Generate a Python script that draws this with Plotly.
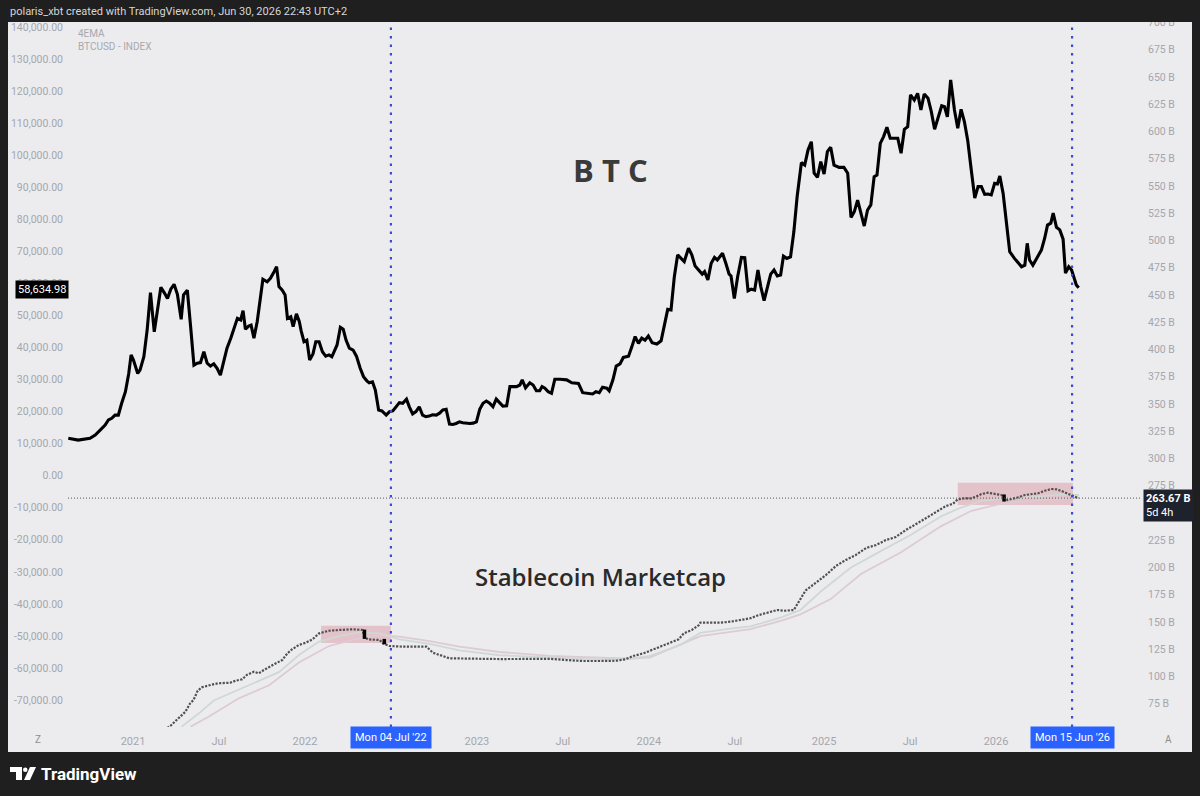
import plotly.graph_objects as go

# ---------------- DATA ----------------
btc_dates = [
    "2020-08-20", "2020-09-10", "2020-10-05", "2020-10-16", "2020-10-27", "2020-11-06", "2020-11-13",
    "2020-11-20", "2020-11-27", "2020-12-04", "2020-12-11", "2020-12-19", "2020-12-26", "2020-12-31",
    "2021-01-05", "2021-01-14", "2021-01-19", "2021-01-27", "2021-02-03", "2021-02-10", "2021-02-18",
    "2021-02-25", "2021-03-04", "2021-03-12", "2021-03-18", "2021-03-25", "2021-04-01", "2021-04-08",
    "2021-04-16", "2021-04-21", "2021-04-29", "2021-05-06", "2021-05-13", "2021-05-20", "2021-05-27",
    "2021-06-03", "2021-06-10", "2021-06-17", "2021-06-24", "2021-07-01", "2021-07-08", "2021-07-15",
    "2021-07-22", "2021-07-30", "2021-08-06", "2021-08-13", "2021-08-20", "2021-08-25", "2021-08-30",
    "2021-09-06", "2021-09-11", "2021-09-17", "2021-09-24", "2021-10-01", "2021-10-06", "2021-10-15",
    "2021-10-22", "2021-10-30", "2021-11-04", "2021-11-09", "2021-11-16", "2021-11-22", "2021-11-27",
    "2021-12-04", "2021-12-09", "2021-12-16", "2021-12-22", "2021-12-26", "2022-01-01", "2022-01-07",
    "2022-01-13", "2022-01-20", "2022-01-26", "2022-02-02", "2022-02-09", "2022-02-16", "2022-02-23",
    "2022-03-01", "2022-03-06", "2022-03-12", "2022-03-19", "2022-03-25", "2022-03-31", "2022-04-07",
    "2022-04-15", "2022-04-22", "2022-04-30", "2022-05-07", "2022-05-14", "2022-05-19", "2022-05-26",
    "2022-06-01", "2022-06-08", "2022-06-15", "2022-06-24", "2022-07-01", "2022-07-08", "2022-07-15",
    "2022-07-22", "2022-07-29", "2022-08-06", "2022-08-12", "2022-08-19", "2022-08-26", "2022-09-02",
    "2022-09-09", "2022-09-16", "2022-09-23", "2022-09-30", "2022-10-08", "2022-10-15", "2022-10-22",
    "2022-10-29", "2022-11-05", "2022-11-12", "2022-11-19", "2022-11-26", "2022-12-03", "2022-12-11",
    "2022-12-18", "2022-12-25", "2023-01-01", "2023-01-08", "2023-01-15", "2023-01-22", "2023-01-29",
    "2023-02-05", "2023-02-12", "2023-02-19", "2023-02-26", "2023-03-06", "2023-03-13", "2023-03-20",
    "2023-03-27", "2023-04-03", "2023-04-08", "2023-04-15", "2023-04-24", "2023-05-01", "2023-05-08",
    "2023-05-15", "2023-05-20", "2023-05-26", "2023-06-02", "2023-06-09", "2023-06-16", "2023-06-27",
    "2023-07-11", "2023-07-22", "2023-08-05", "2023-08-14", "2023-08-26", "2023-09-04", "2023-09-11",
    "2023-09-18", "2023-09-25", "2023-10-04", "2023-10-09", "2023-10-17", "2023-10-24", "2023-11-01",
    "2023-11-08", "2023-11-19", "2023-11-26", "2023-12-03", "2023-12-10", "2023-12-17", "2023-12-24",
    "2023-12-31", "2024-01-08", "2024-01-18", "2024-01-27", "2024-02-03", "2024-02-10", "2024-02-17",
    "2024-02-24", "2024-03-02", "2024-03-09", "2024-03-16", "2024-03-25", "2024-04-01", "2024-04-08",
    "2024-04-15", "2024-04-23", "2024-04-28", "2024-05-05", "2024-05-12", "2024-05-19", "2024-05-25",
    "2024-05-30", "2024-06-05", "2024-06-12", "2024-06-19", "2024-06-23", "2024-06-30", "2024-07-07",
    "2024-07-15", "2024-07-22", "2024-07-29", "2024-08-05", "2024-08-12", "2024-08-19", "2024-08-25",
    "2024-09-01", "2024-09-08", "2024-09-15", "2024-09-22", "2024-09-29", "2024-10-06", "2024-10-12",
    "2024-10-19", "2024-10-27", "2024-11-03", "2024-11-10", "2024-11-19", "2024-11-26", "2024-12-03",
    "2024-12-10", "2024-12-16", "2024-12-23", "2024-12-30", "2025-01-06", "2025-01-13", "2025-01-20",
    "2025-01-27", "2025-02-07", "2025-02-17", "2025-02-25", "2025-03-04", "2025-03-11", "2025-03-18",
    "2025-03-25", "2025-04-01", "2025-04-08", "2025-04-15", "2025-04-22", "2025-04-28", "2025-05-05",
    "2025-05-12", "2025-05-19", "2025-05-26", "2025-06-02", "2025-06-11", "2025-06-18", "2025-06-25",
    "2025-07-02", "2025-07-08", "2025-07-16", "2025-07-23", "2025-07-30", "2025-08-06", "2025-08-14",
    "2025-08-21", "2025-08-28", "2025-09-04", "2025-09-12", "2025-09-18", "2025-09-24", "2025-10-01",
    "2025-10-09", "2025-10-16", "2025-10-23", "2025-10-30", "2025-11-06", "2025-11-14", "2025-11-21",
    "2025-11-28", "2025-12-05", "2025-12-12", "2025-12-19", "2025-12-26", "2026-01-02", "2026-01-08",
    "2026-01-13", "2026-01-20", "2026-01-27", "2026-02-03", "2026-02-13", "2026-02-28", "2026-03-07",
    "2026-03-12", "2026-03-17", "2026-03-24", "2026-04-01", "2026-04-11", "2026-04-18", "2026-04-24",
    "2026-05-01", "2026-05-06", "2026-05-13", "2026-05-20", "2026-05-27", "2026-06-01", "2026-06-08",
    "2026-06-14", "2026-06-24", "2026-06-29",
]
# BTC 4EMA, thousands of USD
btc_k = [
    11.7, 11.1, 11.7, 12.7, 14.3, 15.8, 17.4,
    17.9, 18.9, 18.9, 22.6, 26.2, 31.9, 37.7,
    36.1, 31.9, 33.0, 37.1, 45.5, 57.1, 44.9,
    52.7, 58.8, 56.9, 55.3, 58.2, 59.7, 56.6,
    48.8, 56.4, 57.9, 46.5, 34.5, 35.1, 35.3,
    38.7, 35.1, 34.2, 34.9, 33.5, 31.4, 35.6,
    39.8, 42.9, 46.0, 49.1, 48.6, 51.5, 45.7,
    46.7, 47.0, 42.9, 48.1, 55.9, 61.3, 60.5,
    61.6, 63.7, 65.2, 59.0, 57.9, 56.4, 49.1,
    49.6, 46.5, 50.5, 48.1, 45.2, 41.8, 42.3,
    36.1, 38.0, 41.8, 41.8, 38.7, 37.3, 37.7,
    37.1, 38.7, 40.8, 46.3, 45.7, 42.3, 39.8,
    39.2, 37.3, 33.5, 30.9, 29.6, 29.0, 29.3,
    26.7, 20.5, 20.2, 18.9, 20.0, 20.2, 21.7,
    22.8, 22.6, 23.9, 21.5, 19.3, 20.0, 21.5,
    18.9, 18.4, 18.6, 19.0, 18.9, 19.5, 20.5,
    20.7, 16.1, 16.0, 16.3, 16.8, 16.5, 16.3,
    16.3, 16.4, 16.8, 20.7, 22.6, 23.3, 22.6,
    21.5, 23.9, 22.8, 21.7, 21.8, 27.8, 27.8,
    27.8, 28.3, 29.9, 27.4, 29.0, 28.3, 26.5,
    26.5, 27.8, 27.3, 26.2, 25.7, 30.1, 30.1,
    29.9, 29.0, 28.8, 25.9, 25.7, 25.5, 26.2,
    25.9, 27.6, 27.3, 26.5, 29.9, 34.2, 34.9,
    36.9, 37.3, 40.2, 43.4, 41.3, 42.9, 42.3,
    43.6, 41.5, 41.1, 42.1, 47.6, 51.9, 51.7,
    62.1, 68.9, 67.8, 66.8, 71.0, 68.9, 65.4,
    64.2, 62.9, 63.7, 61.1, 66.3, 68.1, 67.3,
    68.3, 69.4, 66.3, 62.9, 62.3, 55.3, 62.1,
    68.1, 68.0, 57.7, 58.2, 57.9, 64.2, 59.0,
    54.6, 59.0, 62.9, 64.2, 62.3, 62.6, 68.5,
    67.8, 68.3, 76.1, 87.1, 97.7, 96.9, 101.6,
    104.2, 94.4, 93.1, 98.0, 94.1, 101.1, 102.5,
    96.9, 96.2, 96.2, 94.4, 80.6, 82.4, 86.0,
    81.9, 77.9, 82.9, 84.5, 93.3, 93.8, 103.7,
    105.8, 108.7, 105.3, 105.3, 105.3, 100.6, 108.1,
    108.9, 118.8, 117.2, 119.3, 114.1, 119.1, 117.8,
    113.6, 108.1, 111.5, 115.4, 115.1, 112.0, 123.5,
    114.1, 108.4, 114.3, 110.5, 104.7, 94.9, 86.6,
    90.2, 90.2, 87.8, 87.9, 87.6, 91.2, 91.0,
    93.5, 88.1, 79.8, 69.9, 67.8, 65.2, 65.7,
    72.5, 67.3, 65.7, 67.8, 70.4, 74.1, 78.2,
    78.8, 81.9, 77.5, 76.7, 73.8, 63.2, 65.2,
    64.2, 59.5, 58.635,
]

stable_dates = [
    "2021-01-20", "2021-02-24", "2021-03-24", "2021-04-10", "2021-04-25", "2021-05-05", "2021-05-12",
    "2021-05-21", "2021-05-30", "2021-06-17", "2021-07-04", "2021-07-29", "2021-08-09", "2021-08-23",
    "2021-09-02", "2021-09-17", "2021-09-27", "2021-10-08", "2021-10-22", "2021-11-02", "2021-11-16",
    "2021-11-27", "2021-12-07", "2021-12-21", "2022-01-05", "2022-01-19", "2022-02-02", "2022-02-23",
    "2022-03-17", "2022-04-14", "2022-05-05", "2022-05-09", "2022-05-16", "2022-06-10", "2022-06-17",
    "2022-07-01", "2022-07-29", "2022-09-17", "2022-10-01", "2022-11-05", "2023-02-19", "2023-06-06",
    "2023-07-11", "2023-08-15", "2023-09-20", "2023-10-25", "2023-11-12", "2023-11-29", "2023-12-21",
    "2024-01-04", "2024-01-25", "2024-02-15", "2024-03-04", "2024-03-15", "2024-04-01", "2024-04-16",
    "2024-04-19", "2024-05-10", "2024-06-01", "2024-06-22", "2024-07-13", "2024-08-03", "2024-08-21",
    "2024-09-15", "2024-09-29", "2024-10-13", "2024-11-03", "2024-11-07", "2024-11-14", "2024-11-28",
    "2024-12-19", "2025-01-10", "2025-01-31", "2025-02-21", "2025-03-14", "2025-04-05", "2025-04-26",
    "2025-05-17", "2025-06-07", "2025-06-28", "2025-07-20", "2025-08-10", "2025-08-31", "2025-09-21",
    "2025-10-06", "2025-10-16", "2025-10-30", "2025-11-14", "2025-11-24", "2025-12-05", "2025-12-19",
    "2026-01-02", "2026-01-16", "2026-01-29", "2026-02-06", "2026-02-21", "2026-03-07", "2026-03-21",
    "2026-04-04", "2026-04-18", "2026-05-02", "2026-05-13", "2026-05-24", "2026-06-07", "2026-06-18",
    "2026-06-29",
]
# Stablecoin market cap, billions USD
stable_b = [
    36.0, 46.0, 54.6, 61.6, 67.7, 75.4, 78.4,
    87.0, 90.1, 92.2, 93.8, 94.3, 96.1, 97.4,
    101.4, 104.4, 102.9, 105.9, 108.9, 112.0, 115.1,
    121.3, 125.0, 128.9, 131.0, 134.1, 139.6, 142.0,
    142.7, 143.3, 142.7, 136.5, 134.1, 133.5, 130.5,
    128.0, 127.4, 127.4, 121.8, 116.7, 116.0, 116.2,
    115.1, 114.2, 114.2, 114.5, 115.8, 118.8, 121.3,
    123.7, 127.4, 130.5, 134.1, 139.6, 142.7, 147.2,
    149.4, 149.4, 149.4, 150.3, 151.8, 153.4, 156.4,
    159.4, 161.0, 160.3, 161.0, 164.0, 168.6, 179.0,
    185.8, 193.1, 201.4, 206.9, 211.5, 217.9, 220.6,
    225.2, 228.0, 234.4, 239.9, 245.4, 250.9, 256.4,
    258.5, 262.6, 263.5, 263.5, 265.0, 267.4, 268.6,
    267.4, 266.5, 261.9, 262.6, 264.4, 266.5, 267.4,
    268.1, 270.4, 272.0, 271.7, 270.2, 267.4, 265.6,
    263.67,
]

# weeks shown as black (down) candles
down_dates = ["2022-05-09", "2022-06-20", "2026-01-22"]
down_open = [143.0, 134.5, 267.0]
down_close = [134.5, 129.5, 260.5]

ema_fast_dates = [
    "2021-04-17", "2021-05-23", "2021-06-24", "2021-08-16", "2021-09-28", "2021-11-09", "2021-12-22",
    "2022-02-02", "2022-03-17", "2022-04-28", "2022-06-10", "2022-07-22", "2022-09-24", "2022-11-26",
    "2023-02-19", "2023-06-06", "2023-09-20", "2023-11-22", "2024-01-04", "2024-03-08", "2024-04-19",
    "2024-06-22", "2024-08-03", "2024-10-06", "2024-11-17", "2024-12-30", "2025-03-04", "2025-05-06",
    "2025-07-09", "2025-09-11", "2025-10-23", "2025-12-05", "2026-01-16", "2026-03-21", "2026-05-24",
    "2026-06-30",
]
ema_fast_b = [
    54, 66, 78, 88, 96, 104, 120,
    132, 137, 140.5, 139.5, 134, 130, 124,
    119.5, 117.5, 115.5, 116.5, 119, 129, 140,
    144, 146, 154, 161, 178, 200, 215,
    230, 247, 255, 261, 263.5, 264.5, 267,
    266.5,
]

ema_slow_dates = [
    "2021-05-06", "2021-06-13", "2021-08-16", "2021-10-19", "2021-12-22", "2022-02-23", "2022-04-28",
    "2022-06-10", "2022-07-22", "2022-09-24", "2022-11-26", "2023-02-19", "2023-06-06", "2023-09-20",
    "2023-11-22", "2024-01-04", "2024-04-19", "2024-08-03", "2024-10-06", "2024-11-17", "2025-01-20",
    "2025-03-25", "2025-06-18", "2025-09-11", "2025-11-14", "2026-01-16", "2026-04-11", "2026-06-30",
]
ema_slow_b = [
    54, 63, 80, 92, 113, 128, 135,
    138, 136.5, 132.5, 127.5, 122.5, 119, 117,
    116.3, 117.5, 137, 143.5, 151, 157, 171,
    194, 214, 238, 252, 258.5, 262, 264,
]

highlight_start = ["2022-02-06", "2025-10-16"]
highlight_end = ["2022-07-04", "2026-06-17"]
highlight_low = [130.8, 257.3]
highlight_high = [146.5, 277.8]

crosshair_dates = ["2022-07-04", "2026-06-15"]
crosshair_text = ["Mon 04 Jul '22", "Mon 15 Jun '26"]
last_btc_text = "58,634.98"
last_stable = 263.67

left_ticks = list(range(-70, 150, 10))
right_ticks = list(range(75, 725, 25))
x_tick_dates = ["2021-01-04", "2021-07-05", "2022-01-03", "2023-01-02", "2023-07-03",
                "2024-01-01", "2024-07-01", "2025-01-06", "2025-07-07", "2026-01-05"]
x_tick_text = ["2021", "Jul", "2022", "2023", "Jul", "2024", "Jul", "2025", "Jul", "2026"]

# ---------------- LAYOUT HELPERS ----------------
W, H = 1200, 796
L, R, T, B = 68, 60, 22, 69
PW, PH = W - L - R, H - T - B


def px(x):
    return (x - L) / PW


def py(y):
    return 1 - (y - T) / PH


PANEL = "#ececef"
DARK = "#1f1f1f"
AXIS_TXT = "#a4a6ac"
FONT = "Roboto"

fig = go.Figure()

fig.add_trace(go.Scatter(x=ema_slow_dates, y=ema_slow_b, yaxis="y2", mode="lines",
                         line=dict(color="#dccbd6", width=1.8), hoverinfo="skip"))
fig.add_trace(go.Scatter(x=ema_fast_dates, y=ema_fast_b, yaxis="y2", mode="lines",
                         line=dict(color="#cfd8d4", width=1.8), hoverinfo="skip"))
fig.add_trace(go.Scatter(x=stable_dates, y=stable_b, yaxis="y2", mode="lines",
                         line=dict(color="#505050", width=2.2, dash="2.2px,1.4px"),
                         hoverinfo="skip"))
dx, dy = [], []
for d, o, c in zip(down_dates, down_open, down_close):
    dx += [d, d, None]
    dy += [o, c, None]
fig.add_trace(go.Scatter(x=dx, y=dy, yaxis="y2", mode="lines",
                         line=dict(color="#000000", width=3.5), hoverinfo="skip"))
fig.add_trace(go.Scatter(x=btc_dates, y=btc_k, mode="lines",
                         line=dict(color="#000000", width=3.1), hoverinfo="skip"))

shapes = []
# light chart panel
shapes.append(dict(type="rect", xref="paper", yref="paper", x0=px(8), x1=px(1192), y0=py(752), y1=py(22),
                   fillcolor=PANEL, line=dict(width=0), layer="below"))
# highlight boxes
for s, e, lo, hi in zip(highlight_start, highlight_end, highlight_low, highlight_high):
    shapes.append(dict(type="rect", xref="x", yref="y2", x0=s, x1=e, y0=lo, y1=hi,
                       fillcolor="rgba(214,110,124,0.33)", line=dict(width=0), layer="below"))
# crosshair verticals
for d in crosshair_dates:
    shapes.append(dict(type="line", xref="x", yref="paper", x0=d, x1=d, y0=0, y1=1,
                       line=dict(color="#3a4bd4", width=2.2, dash="2.5px,6px"), layer="above"))
# horizontal price line
shapes.append(dict(type="line", xref="paper", yref="y2", x0=0, x1=1, y0=last_stable, y1=last_stable,
                   line=dict(color="#555555", width=1, dash="1px,2px"), layer="above"))
# dark header strip (clips top labels like the panel edge)
shapes.append(dict(type="rect", xref="paper", yref="paper", x0=px(0), x1=px(1200), y0=py(22), y1=py(0),
                   fillcolor=DARK, line=dict(width=0), layer="above"))


# TradingView logo mark
def path(points):
    s = "M " + " L ".join(f"{px(a):.5f},{py(b):.5f}" for a, b in points) + " Z"
    return s


shapes.append(dict(type="path", xref="paper", yref="paper",
                   path=path([(10, 767), (22, 767), (22, 780), (16, 780), (16, 772), (10, 772)]),
                   fillcolor="#ffffff", line=dict(width=0), layer="above"))
shapes.append(dict(type="circle", xref="paper", yref="paper", x0=px(23), x1=px(27.5), y0=py(772), y1=py(767.5),
                   fillcolor="#ffffff", line=dict(width=0), layer="above"))
shapes.append(dict(type="path", xref="paper", yref="paper",
                   path=path([(30, 767), (36, 767), (30, 780), (24, 780)]),
                   fillcolor="#ffffff", line=dict(width=0), layer="above"))

ann = []
ann.append(dict(text="polaris_xbt created with TradingView.com, Jun 30, 2026 22:43 UTC+2",
                xref="paper", yref="paper", x=px(8), y=py(12), xanchor="left", yanchor="middle",
                showarrow=False, font=dict(family=FONT, size=11, color="#d6d6d6")))
ann.append(dict(text="4EMA", xref="paper", yref="paper", x=px(76), y=py(33), xanchor="left",
                yanchor="middle", showarrow=False, font=dict(family=FONT, size=10, color="#a8a8ac")))
ann.append(dict(text="BTCUSD - INDEX", xref="paper", yref="paper", x=px(76), y=py(46), xanchor="left",
                yanchor="middle", showarrow=False, font=dict(family=FONT, size=10, color="#a8a8ac")))
ann.append(dict(text="<b>B T C</b>", xref="paper", yref="paper", x=px(610), y=py(170), xanchor="center",
                yanchor="middle", showarrow=False, font=dict(family="Open Sans", size=31, color="#3a3a3a")))
ann.append(dict(text="Stablecoin Marketcap", xref="paper", yref="paper", x=px(600), y=py(576),
                xanchor="center", yanchor="middle", showarrow=False,
                font=dict(family="Open Sans", size=24, color="#2a2a2a", weight=600)))
ann.append(dict(text=last_btc_text, xref="paper", yref="paper", x=px(42), y=py(289.5), xanchor="center",
                yanchor="middle", showarrow=False, bgcolor="#000000", borderpad=2,
                font=dict(family=FONT, size=11, color="#ffffff")))
ann.append(dict(text=f"<b>{last_stable:.2f} B</b><br>5d 4h", xref="paper", yref="paper", x=px(1143),
                y=py(505), xanchor="left", yanchor="middle", showarrow=False, bgcolor="#1e222d",
                borderpad=2, align="left", font=dict(family=FONT, size=11, color="#ffffff")))
for d, t in zip(crosshair_dates, crosshair_text):
    ann.append(dict(text=t, xref="x", yref="paper", x=d, y=py(738), xanchor="center", yanchor="middle",
                    showarrow=False, bgcolor="#2962ff", borderpad=4,
                    font=dict(family=FONT, size=11, color="#ffffff")))
ann.append(dict(text="Z", xref="paper", yref="paper", x=px(38), y=py(740), xanchor="center",
                yanchor="middle", showarrow=False, font=dict(family=FONT, size=10, color="#8c8c90")))
ann.append(dict(text="A", xref="paper", yref="paper", x=px(1168), y=py(740), xanchor="center",
                yanchor="middle", showarrow=False, font=dict(family=FONT, size=10, color="#8c8c90")))
ann.append(dict(text="<b>TradingView</b>", xref="paper", yref="paper", x=px(39), y=py(773.5), xanchor="left",
                yanchor="middle", showarrow=False, font=dict(family=FONT, size=17, color="#ffffff")))

fig.update_layout(
    width=W, height=H,
    margin=dict(l=L, r=R, t=T, b=B, pad=0),
    paper_bgcolor=DARK, plot_bgcolor=PANEL,
    showlegend=False, hovermode=False,
    shapes=shapes, annotations=ann,
    xaxis=dict(type="date", range=["2020-08-19 10:00", "2026-11-05 19:00"],
               tickvals=x_tick_dates, ticktext=x_tick_text, tickmode="array",
               showgrid=False, zeroline=False, showline=False, ticks="",
               tickfont=dict(family=FONT, size=11, color=AXIS_TXT), ticklabelstandoff=6),
    yaxis=dict(range=[-78.41, 141.56], tickmode="array", tickvals=left_ticks,
               ticktext=[f"{v * 1000:,.2f}" for v in left_ticks],
               showgrid=False, zeroline=False, showline=False, ticks="",
               tickfont=dict(family=FONT, size=10.5, color=AXIS_TXT), ticklabelstandoff=4),
    yaxis2=dict(range=[53.67, 700.46], overlaying="y", side="right", tickmode="array",
                tickvals=right_ticks, ticktext=[f"{v} B" for v in right_ticks],
                showgrid=False, zeroline=False, showline=False, ticks="",
                tickfont=dict(family=FONT, size=10.5, color=AXIS_TXT), ticklabelstandoff=7),
)

fig.write_html("out.html")
